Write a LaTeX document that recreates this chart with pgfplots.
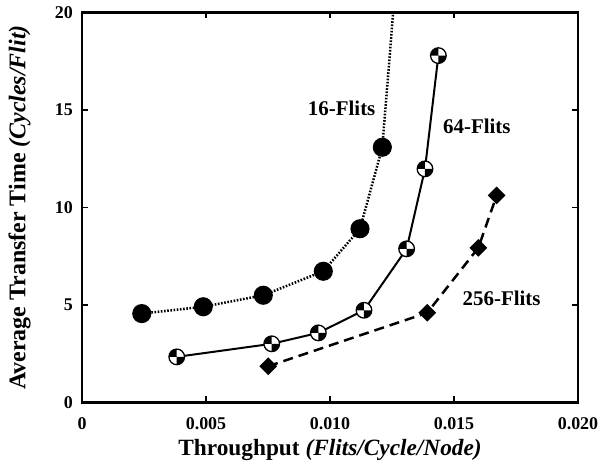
\documentclass[border=0pt]{standalone}
\usepackage{fontspec}
\setmainfont{Liberation Serif}
\usepackage{pgfplots}
\pgfplotsset{compat=1.18}
\pgfdeclareplotmark{checker}{%
  \pgfpathcircle{\pgfpointorigin}{\pgfplotmarksize}%
  \pgfsetfillcolor{white}\pgfusepath{fill}%
  \pgfpathmoveto{\pgfpointorigin}%
  \pgfpathlineto{\pgfqpoint{-\pgfplotmarksize}{0pt}}%
  \pgfpatharc{180}{90}{\pgfplotmarksize}%
  \pgfpathclose
  \pgfpathmoveto{\pgfpointorigin}%
  \pgfpathlineto{\pgfqpoint{\pgfplotmarksize}{0pt}}%
  \pgfpatharc{0}{-90}{\pgfplotmarksize}%
  \pgfpathclose
  \pgfsetfillcolor{black}\pgfusepath{fill}%
  \pgfpathcircle{\pgfpointorigin}{\pgfplotmarksize}%
  \pgfusepath{stroke}%
}
\begin{document}
\begin{tikzpicture}
\begin{axis}[
  name=ax,
  scale only axis, width=496bp, height=390bp,
  xmin=0, xmax=0.02, ymin=0, ymax=20,
  xtick={0,0.005,0.01,0.015,0.02},
  xticklabels={0,0.005,0.010,0.015,0.020},
  ytick={0,5,10,15,20},
  scaled x ticks=false,
  tick align=inside, major tick length=6bp,
  axis line style={line width=2.4bp},
  every tick/.style={line width=1.5bp,black},
  /pgf/number format/assume math mode=true,
  tick label style={font=\fontsize{18}{18}\selectfont\bfseries, inner sep=0pt},
  xticklabel style={yshift=-15bp},
  yticklabel style={xshift=-9bp},
  xlabel={Throughput \textit{(Flits/Cycle/Node)}},
  ylabel={Average Transfer Time \textit{(Cycles/Flit)}},
  xlabel style={at={(axis description cs:0.5,0)}, anchor=north, inner sep=0pt, yshift=-37bp, font=\fontsize{23.4}{23.4}\selectfont\bfseries},
  ylabel style={at={(axis description cs:0,0.5)}, anchor=base, inner sep=0pt, yshift=56.5bp, font=\fontsize{24}{24}\selectfont\bfseries},
  clip=true,
]
\addplot[black, line width=2.5bp, dash pattern=on 1.6bp off 1.6bp, forget plot] coordinates {(0.01211,13.09) (0.01261,21.0)};
\addplot[black, line width=2.5bp, dash pattern=on 1.6bp off 1.6bp, mark=*, mark size=8.3bp, mark options={solid}] coordinates {
(0.00241,4.56) (0.00489,4.91) (0.00731,5.50) (0.00973,6.73) (0.01121,8.91) (0.01211,13.09)};
\addplot[black, line width=2bp, mark=checker, mark size=7.8bp, mark options={solid, line width=1.3bp}] coordinates {
(0.00382,2.34) (0.00765,3.01) (0.00953,3.57) (0.01137,4.73) (0.01309,7.88) (0.01383,11.98) (0.01437,17.79)};
\addplot[black, line width=2.5bp, dash pattern=on 10bp off 6bp, mark=square*, mark size=5bp, mark options={solid, rotate=45}] coordinates {
(0.00751,1.86) (0.01392,4.60) (0.01598,7.93) (0.01672,10.62)};
\node[font=\fontsize{21}{21}\selectfont\bfseries] at (axis cs:0.01047,15.08) {16-Flits};
\node[font=\fontsize{21}{21}\selectfont\bfseries] at (axis cs:0.01592,14.14) {64-Flits};
\node[font=\fontsize{21}{21}\selectfont\bfseries] at (axis cs:0.01692,5.33) {256-Flits};
\end{axis}
\pgfresetboundingbox
\path ([xshift=-82bp,yshift=-66bp]ax.south west) rectangle ([xshift=22bp,yshift=12.5bp]ax.north east);
\end{tikzpicture}
\end{document}
